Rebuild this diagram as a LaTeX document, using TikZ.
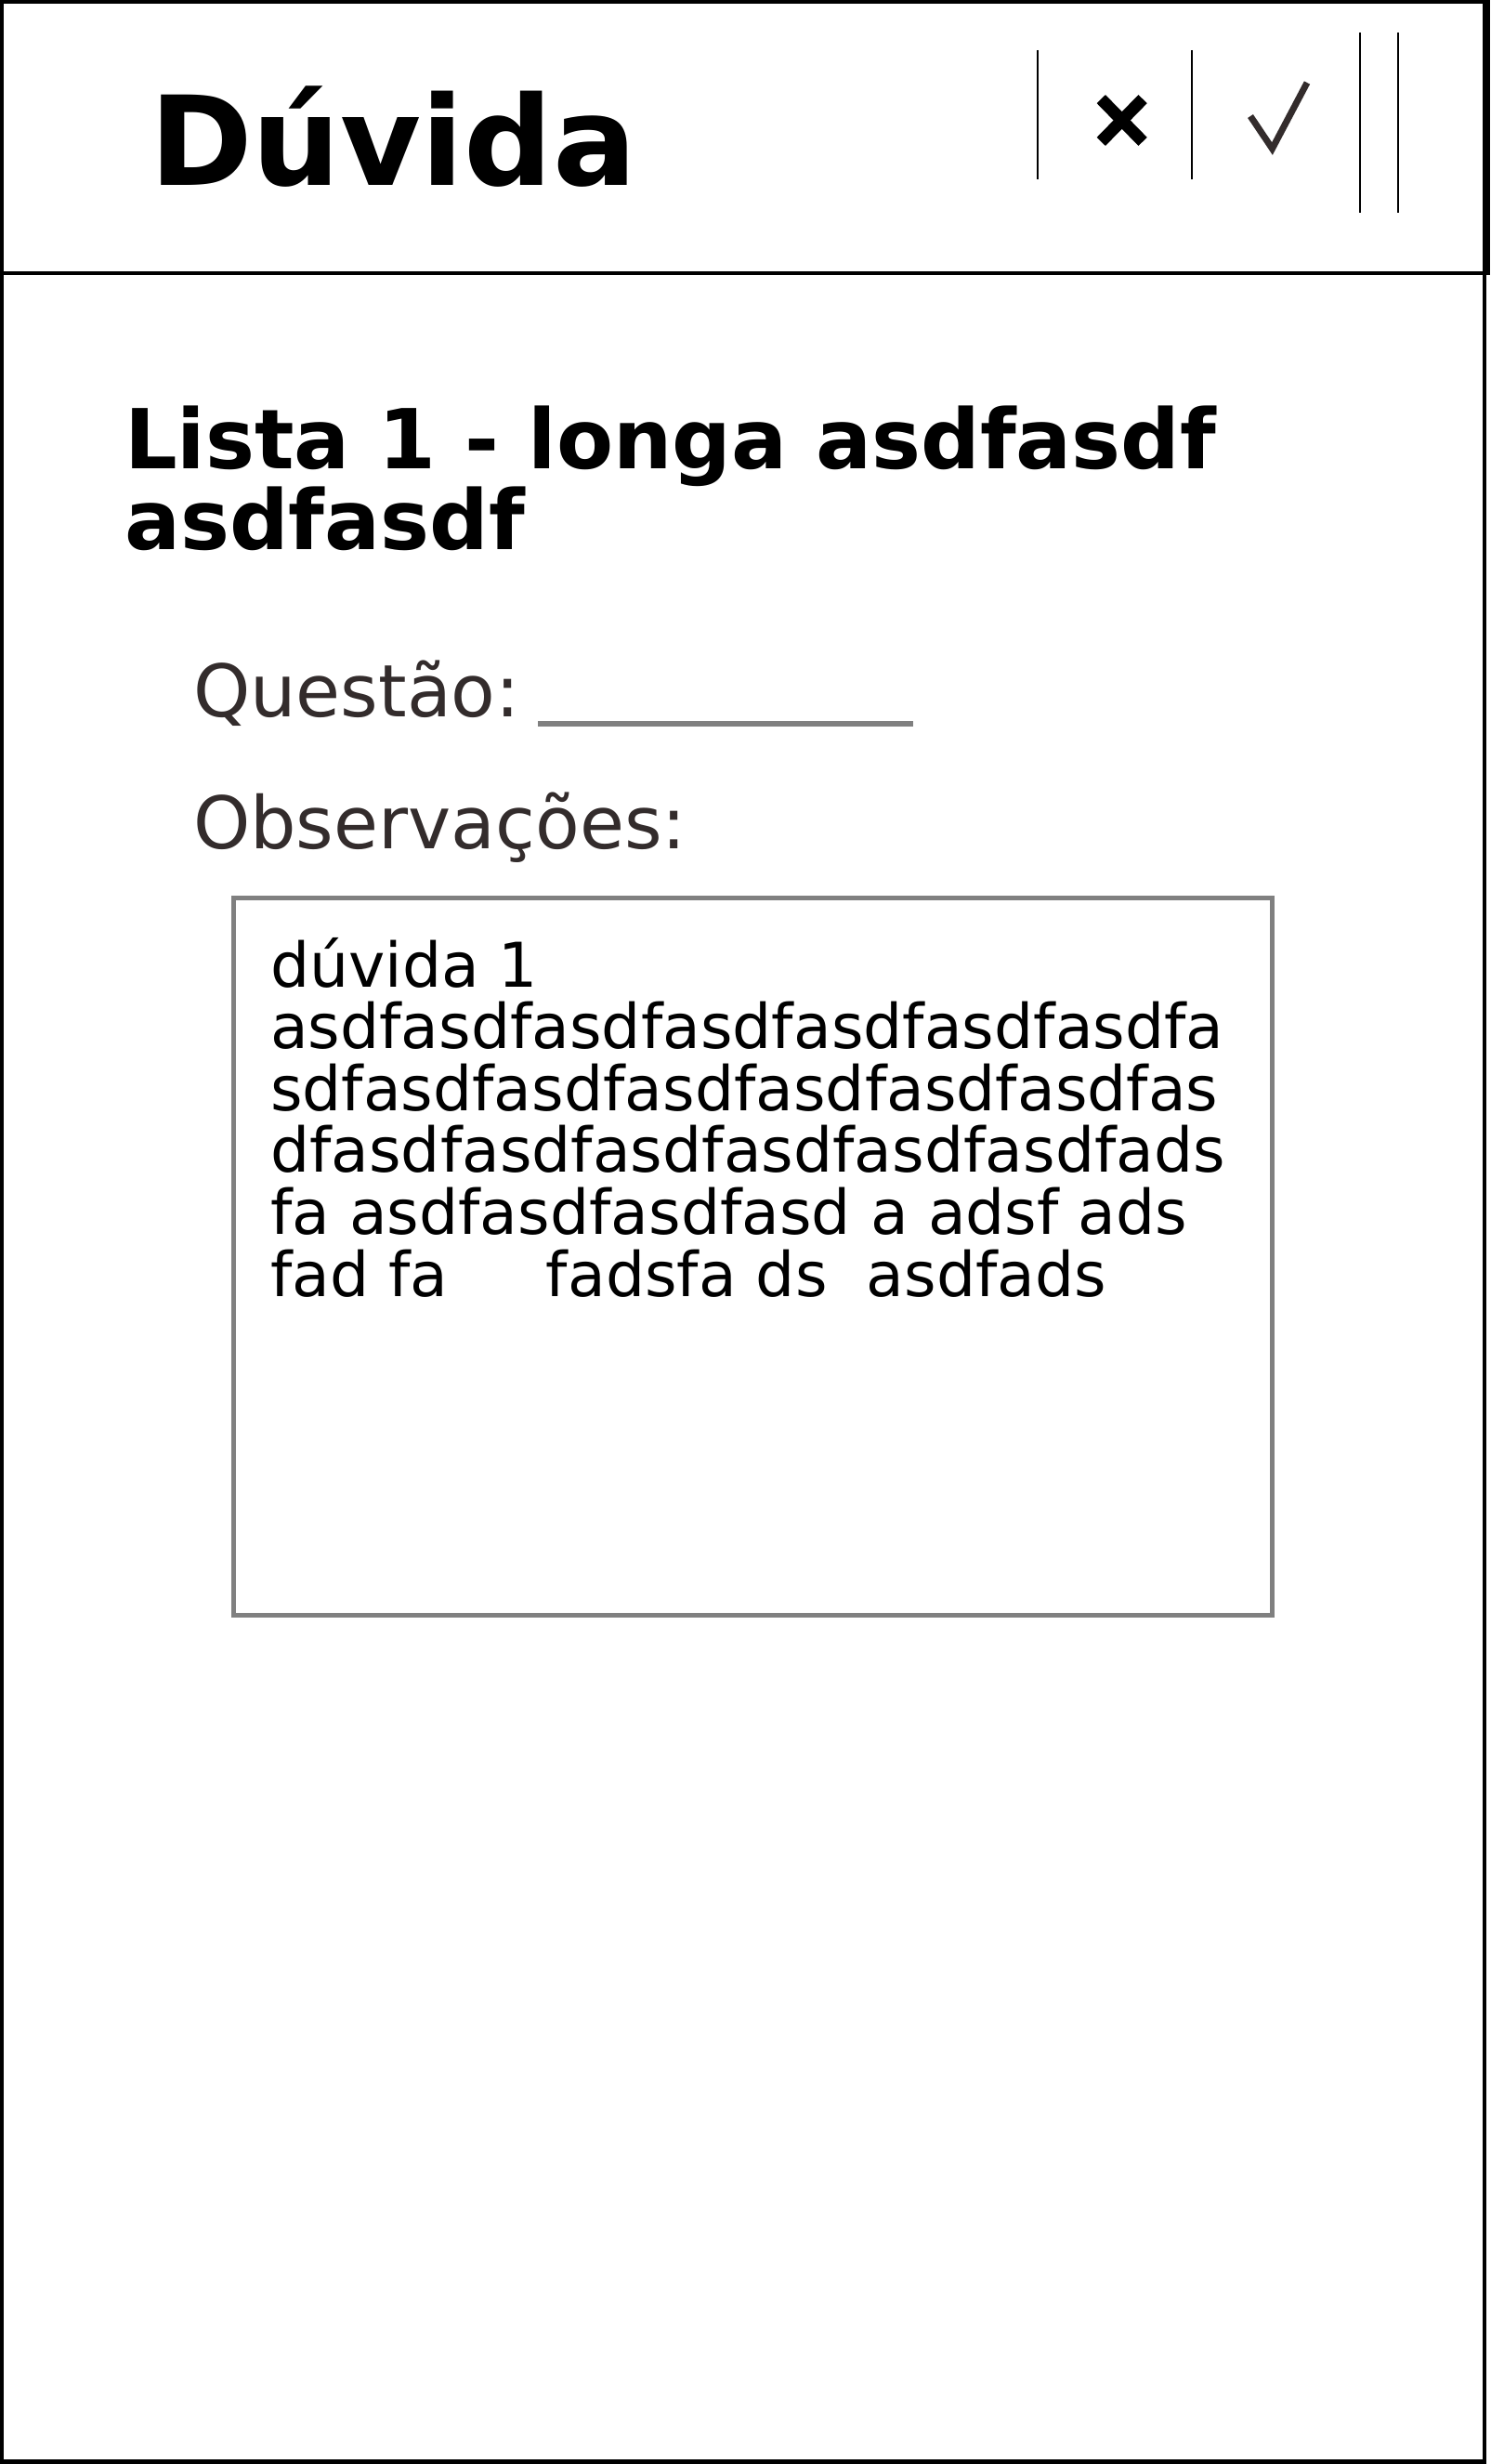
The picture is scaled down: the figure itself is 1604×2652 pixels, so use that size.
\documentclass[tikz,border=0pt]{standalone}
\usepackage{fontspec}
\setmainfont{DejaVu Sans}
\definecolor{txtdark}{RGB}{51,44,44}
\definecolor{boxgray}{RGB}{128,128,128}
\begin{document}
\begin{tikzpicture}[x=1pt,y=-1pt,
  txt/.style={anchor=base west,inner sep=0pt,outer sep=0pt},
  sep/.style={line width=2pt,black},
  frame/.style={line width=4.5pt,black}]
\useasboundingbox (0,0) rectangle (1604,2652);
\fill[white] (0,0) rectangle (1604,2652);
% outer frame and header
\draw[frame] (2.2,2.2) rectangle (1598,2649.6);
\draw[line width=4pt] (2,2) rectangle (1600,293.5);
\fill[black] (1596,0) rectangle (1604,295.5);
% header title
\node[txt,font={\fontsize{133.5}{133.5}\selectfont\bfseries}] (title) at (161,199) {Dúvida};
% header icons
\draw[sep] (1117,54) -- (1117,193);
\draw[sep] (1283,54) -- (1283,193);
\draw[sep] (1464,35) -- (1464,229);
\draw[sep] (1505,35) -- (1505,229);
\draw[line width=13pt,line cap=butt] (1185.3,106.6) -- (1230.1,152.4);
\draw[line width=13pt,line cap=butt] (1185.3,152.4) -- (1230.1,106.6);
\draw[line width=7pt,txtdark,line join=miter] (1346,125) -- (1369.5,160) -- (1407,89);
% list title
\node[txt,font={\fontsize{89}{89}\selectfont\bfseries}] (lista1) at (134,504) {Lista 1 - longa asdfasdf};
\node[txt,font={\fontsize{89}{89}\selectfont\bfseries}] (lista2) at (134,591) {asdfasdf};
% question
\node[txt,txtdark,font={\fontsize{78}{78}\selectfont}] (quest) at (208,771) {Questão:};
\coordinate (ulA) at (579,778.5);
\coordinate (ulB) at (983,778.5);
\draw[boxgray,line width=6pt] (ulA) -- (ulB);
\node[txt,txtdark,font={\fontsize{78}{78}\selectfont}] (obs) at (208,913) {Observações:};
% text box
\draw[boxgray,line width=5pt] (251,966.5) rectangle (1369.5,1738);
\begin{scope}[every node/.style={txt,font={\fontsize{66.4}{66.4}\selectfont}}]
\node (t1) at (291,1062) {dúvida 1};
\node (t2) at (291,1128.5) {asdfasdfasdfasdfasdfasdfasdfa};
\node (t3) at (291,1195) {sdfasdfasdfasdfasdfasdfasdfas};
\node (t4) at (291,1261.5) {dfasdfasdfasdfasdfasdfasdfads};
\node (t5) at (291,1328) {fa asdfasdfasdfasd a adsf ads};
\node (t6) at (291,1395) {fad fa\ \ \ \ \ fadsfa ds\ \ asdfads};
\end{scope}
\end{tikzpicture}
\end{document}
